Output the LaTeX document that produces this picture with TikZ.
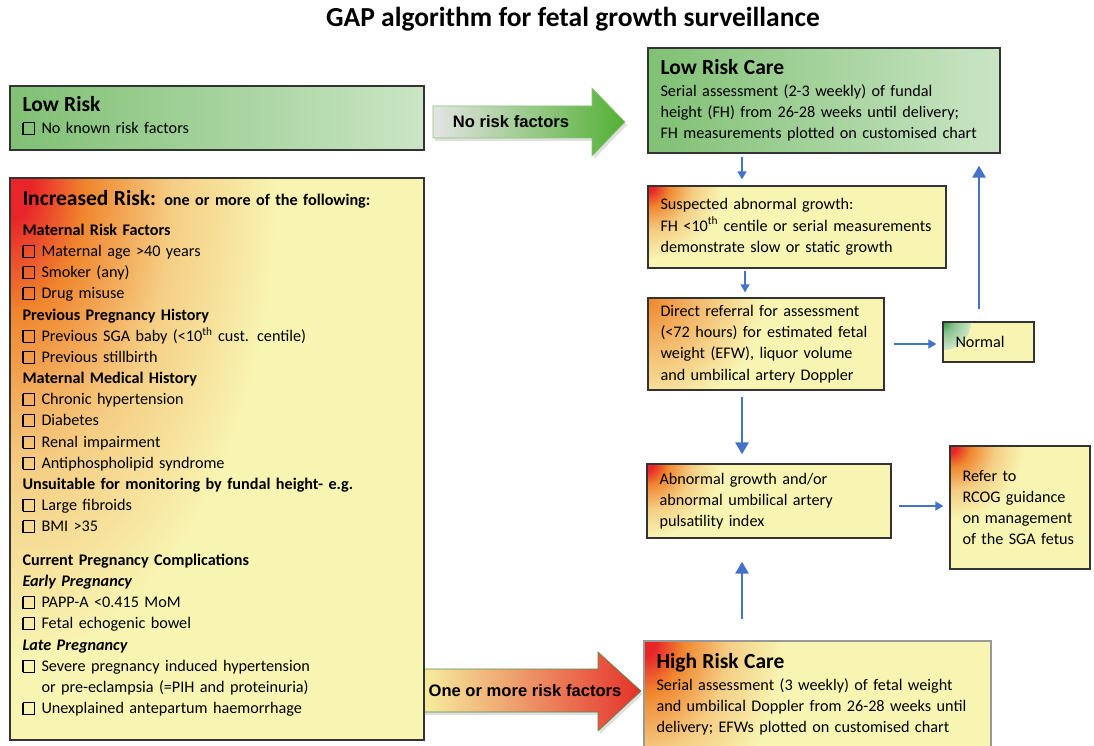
\documentclass[tikz,border=0pt]{standalone}
\usepackage{fontspec}
\setmainfont{Carlito}
\newfontfamily\arialfont{Liberation Sans}
\usetikzlibrary{arrows.meta,shadows}
\definecolor{cyellow}{HTML}{F8F4B2}
\definecolor{cred}{HTML}{E8262A}
\definecolor{corange}{HTML}{F0862E}
\definecolor{cgD}{HTML}{80C074}
\definecolor{cgL}{HTML}{CAE5C5}
\definecolor{cgX}{HTML}{2E9440}
\definecolor{cblue}{HTML}{4472C4}
\definecolor{ga1}{HTML}{E4E4E4}
\definecolor{ga2}{HTML}{A6D68C}
\definecolor{ga3}{HTML}{52B034}
\definecolor{gb1}{HTML}{F6F0A0}
\definecolor{gb2}{HTML}{F3A85C}
\definecolor{gb3}{HTML}{E5322A}
\pgfdeclareradialshading{rcorner}{\pgfpoint{0bp}{0bp}}{color(0bp)=(cred); color(2bp)=(cred); color(6.5bp)=(corange); color(14bp)=(corange!35!cyellow); color(23bp)=(cyellow); color(50bp)=(cyellow)}
\pgfdeclareradialshading{ocorner}{\pgfpoint{0bp}{0bp}}{color(0bp)=(corange); color(9bp)=(corange!55!cyellow); color(22bp)=(cyellow); color(50bp)=(cyellow)}
\pgfdeclareradialshading{gcorner}{\pgfpoint{0bp}{0bp}}{color(0bp)=(cgX); color(10bp)=(cgX!40!cgL); color(24bp)=(cgL); color(50bp)=(cgL)}
\newcommand\lne[1]{\mbox{#1}}
\newcommand\cbx{\raisebox{-0.5pt}{\setlength{\fboxrule}{1pt}\setlength{\fboxsep}{0pt}\fbox{\rule{0pt}{11pt}\rule{11pt}{0pt}}}\hspace{6pt}}
\newcommand\bodyfont{\fontsize{16.2}{21.3}\selectfont}
\newcommand\listfont{\fontsize{16.2}{21.15}\selectfont}
\newcommand\headfont{\fontsize{21.5}{21.3}\selectfont\bfseries}
\tikzset{
  box/.style={draw=black!80, line width=1.3pt, inner xsep=12.5pt, inner ysep=0pt, align=left, font=\bodyfont},
  corner/.style args={#1 with #2}{path picture={
     \fill[cyellow] (path picture bounding box.south west) rectangle (path picture bounding box.north east);
     \shade[shading=#2] (path picture bounding box.north west) ellipse (#1);}},
  greenbox/.style={left color=cgD, right color=cgL},
  bthin/.style={draw=cblue, line width=1.6pt, -{Triangle[length=8pt,width=9pt]}},
  bthick/.style={draw=cblue, line width=2.8pt, -{Triangle[length=12pt,width=13pt]}},
  arrowlabel/.style={font=\fontsize{16.6}{18}\arialfont\bfseries, inner sep=0pt},
}
\begin{document}
\begin{tikzpicture}[x=1pt,y=-1pt]
\useasboundingbox (0,0) rectangle (1094,746);
\fill[white] (0,0) rectangle (1094,746);

\node[font=\fontsize{27.5}{30}\selectfont\bfseries] (title) at (573,19) {GAP algorithm for fetal growth surveillance};

% big block arrows
\shade[left color=ga1, middle color=ga2, right color=ga3, draw=ga3!70!white, line width=0.6pt,
  drop shadow={opacity=0.25, shadow xshift=2pt, shadow yshift=-3pt}]
  (433,106) -- (592,106) -- (592,88) -- (625,122) -- (592,156) -- (592,138) -- (433,138) -- cycle;
\node[arrowlabel] (nrf) at (511,122) {No risk factors};

\shade[left color=gb1, middle color=gb2, right color=gb3, draw=black!35!green!40!gray, line width=0.6pt,
  drop shadow={opacity=0.25, shadow xshift=2pt, shadow yshift=-3pt}]
  (420,669) -- (598,669) -- (598,652) -- (641,691) -- (598,731) -- (598,712) -- (420,712) -- cycle;
\node[arrowlabel] (orf) at (525,691) {One or more risk factors};

% left boxes
\node[box, greenbox, minimum width=414pt, minimum height=64pt, text width=389pt] (lowrisk) at (217,118)
 {\lne{\headfont Low Risk}\\[1pt]
  \lne{\cbx No known risk factors}\\[-15pt]\mbox{}};

\node[box, font=\listfont, corner={290pt and 520pt with rcorner}, minimum width=414pt, minimum height=562pt, text width=389pt] (inc) at (217,459)
 {\lne{{\headfont Increased Risk:} \textbf{one or more of the following:}}\\[9pt]
  \lne{\textbf{Maternal Risk Factors}}\\
  \lne{\cbx Maternal age >40 years}\\
  \lne{\cbx Smoker (any)}\\
  \lne{\cbx Drug misuse}\\
  \lne{\textbf{Previous Pregnancy History}}\\
  \lne{\cbx Previous SGA baby (<10\textsuperscript{th} cust. centile)}\\
  \lne{\cbx Previous stillbirth}\\
  \lne{\textbf{Maternal Medical History}}\\
  \lne{\cbx Chronic hypertension}\\
  \lne{\cbx Diabetes}\\
  \lne{\cbx Renal impairment}\\
  \lne{\cbx Antiphospholipid syndrome}\\
  \lne{\textbf{Unsuitable for monitoring by fundal height- e.g.}}\\
  \lne{\cbx Large fibroids}\\
  \lne{\cbx BMI >35}\\[12.7pt]
  \lne{\textbf{Current Pregnancy Complications}}\\
  \lne{\textbf{\itshape Early Pregnancy}}\\
  \lne{\cbx PAPP-A <0.415 MoM}\\
  \lne{\cbx Fetal echogenic bowel}\\
  \lne{\textbf{\itshape Late Pregnancy}}\\
  \lne{\cbx Severe pregnancy induced hypertension}\\
  \lne{\phantom{\cbx}or pre-eclampsia (=PIH and proteinuria)}\\
  \lne{\cbx Unexplained antepartum haemorrhage}\\[-7pt]\mbox{}};

% right boxes
\node[box, greenbox, minimum width=352pt, minimum height=105pt, text width=327pt] (lrc) at (824,100.5)
 {\lne{\headfont Low Risk Care}\\
  \lne{Serial assessment (2-3 weekly) of fundal}\\
  \lne{height (FH) from 26-28 weeks until delivery;}\\
  \lne{FH measurements plotted on customised chart}};

\node[box, corner={80pt and 80pt with rcorner}, minimum width=298pt, minimum height=82pt, text width=273pt] (susp) at (797,227)
 {\lne{Suspected abnormal growth:}\\
  \lne{FH <10\textsuperscript{th} centile or serial measurements}\\
  \lne{demonstrate slow or static growth}};

\node[box, corner={130pt and 130pt with ocorner}, minimum width=236pt, minimum height=92pt, text width=211pt] (direct) at (766,344)
 {\lne{Direct referral for assessment}\\
  \lne{(<72 hours) for estimated fetal}\\
  \lne{weight (EFW), liquor volume}\\
  \lne{and umbilical artery Doppler}};

\node[box, corner={28pt and 28pt with gcorner}, minimum width=91pt, minimum height=40pt, text width=66pt] (normal) at (988.5,342)
 {\lne{Normal}};

\node[box, corner={80pt and 80pt with rcorner}, minimum width=244pt, minimum height=74pt, text width=219pt] (abn) at (769,501)
 {\lne{Abnormal growth and/or}\\
  \lne{abnormal umbilical artery}\\
  \lne{pulsatility index}};

\node[box, corner={80pt and 80pt with rcorner}, minimum width=140pt, minimum height=123pt, text width=115pt] (refer) at (1020,507.5)
 {\lne{Refer to}\\
  \lne{RCOG guidance}\\
  \lne{on management}\\
  \lne{of the SGA fetus}};

\node[box, draw=black!40, corner={150pt and 200pt with rcorner}, minimum width=347pt, minimum height=107pt, text width=322pt] (hrc) at (817.5,694.5)
 {\lne{\headfont High Risk Care}\\
  \lne{Serial assessment (3 weekly) of fetal weight}\\
  \lne{and umbilical Doppler from 26-28 weeks until}\\
  \lne{delivery; EFWs plotted on customised chart}};

% blue connectors
\coordinate (cA) at (742,0);
\coordinate (cB) at (745,0);
\coordinate (cN) at (979,0);
\draw[bthin, shorten <=3pt, shorten >=6pt] (cA |- lrc.south) -- (cA |- susp.north);
\draw[bthin, shorten <=2pt, shorten >=5pt] (cB |- susp.south) -- (cB |- direct.north);
\draw[bthin, shorten <=9pt, shorten >=6pt] (direct.east) -- (direct.east -| normal.west);
\draw[bthick, shorten <=12pt, shorten >=12pt] (cN |- normal.north) -- (cN |- lrc.south);
\draw[bthick, shorten <=6pt, shorten >=9pt] (cA |- direct.south) -- (cA |- abn.north);
\draw[bthin, shorten <=7pt, shorten >=6pt] (abn.east |- 0,506) -- (refer.west |- 0,506);
\draw[bthick, shorten <=21pt, shorten >=23pt] (cA |- hrc.north) -- (cA |- abn.south);
\end{tikzpicture}
\end{document}
